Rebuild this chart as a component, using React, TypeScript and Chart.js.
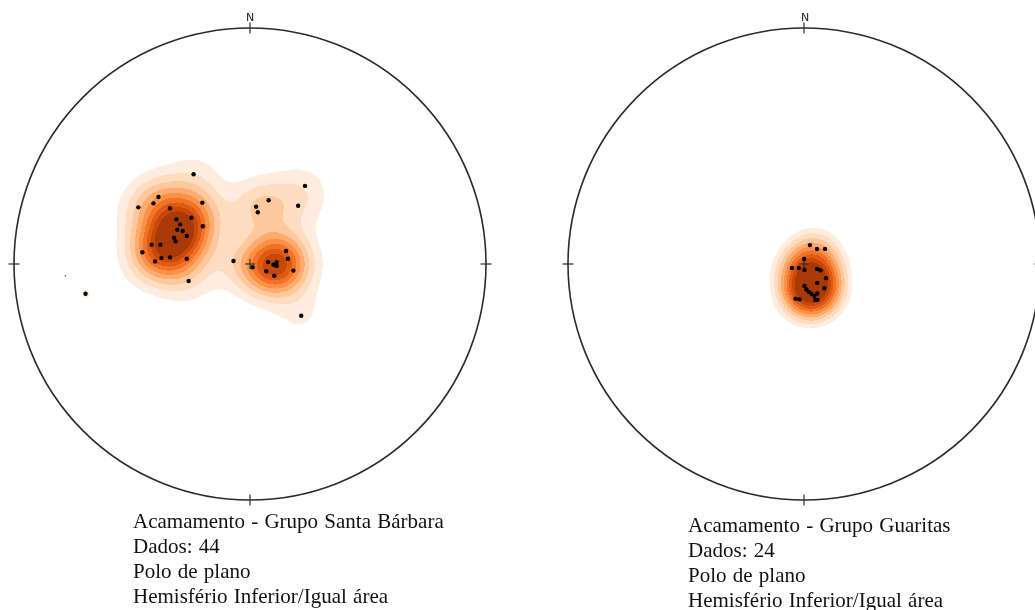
import React, { useEffect, useRef } from 'react';
import { Chart, registerables } from 'chart.js';

Chart.register(...registerables);

// Poles to bedding (equal-area, lower hemisphere), coordinates in units of net radius (x = East, y = North)
const santaBarbaraX = [-0.239, 0.233, -0.388, -0.473, -0.409, -0.202, -0.339, 0.079, 0.026, 0.033, 0.204, -0.312, -0.248, -0.296, -0.308, -0.285, -0.2, -0.268, -0.322, -0.315, -0.417, -0.38, -0.456, -0.402, -0.375, -0.339, -0.268, -0.26, -0.07, 0.011, 0.077, 0.113, 0.099, 0.113, 0.069, 0.103, 0.153, 0.161, 0.184, 0.217, -0.697];
const santaBarbaraY = [0.38, 0.331, 0.284, 0.24, 0.257, 0.26, 0.236, 0.27, 0.243, 0.219, 0.247, 0.189, 0.196, 0.168, 0.145, 0.14, 0.16, 0.119, 0.111, 0.096, 0.082, 0.082, 0.05, 0.011, 0.025, 0.028, 0.022, -0.072, 0.013, -0.014, 0.008, 0.008, -0.003, -0.008, -0.031, -0.05, 0.055, 0.022, -0.028, -0.219, -0.126];
const strayMarkX = [-0.782];
const strayMarkY = [-0.05];

const guaritasX = [0.025, 0.055, 0.089, 0.001, -0.051, -0.022, 0.002, 0.055, 0.07, 0.093, 0.056, 0.002, 0.01, 0.02, 0.032, 0.044, 0.056, 0.086, 0.048, 0.057, -0.036, -0.019];
const guaritasY = [0.08, 0.064, 0.064, 0.021, -0.017, -0.017, -0.025, -0.021, -0.027, -0.06, -0.08, -0.093, -0.108, -0.118, -0.126, -0.135, -0.125, -0.103, -0.152, -0.152, -0.147, -0.15];

// Cardinal tick positions on the primitive
const tickX = [0, 1, 0, -1];
const tickY = [1, 0, -1, 0];
const tickRotation = [90, 0, 90, 0];

// Contouring: lowest contour (kernel-count units) per net, top contour as fraction of the maximum
const santaBarbaraLowest = 0.985;
const guaritasLowest = 2.6;
const topContourFraction = 0.76;
const contourColors = ['#feeddf', '#fddcc0', '#fdc89d', '#fdac6f', '#fb9146', '#f1732a', '#e05a14', '#c8480a', '#a93a08'];

const captionSantaBarbara = ['Acamamento - Grupo Santa Bárbara', 'Dados: 44', 'Polo de plano', 'Hemisfério Inferior/Igual área'];
const captionGuaritas = ['Acamamento - Grupo Guaritas', 'Dados: 24', 'Polo de plano', 'Hemisfério Inferior/Igual área'];
const northLabel = 'N';

const NET_RADIUS_PX = 236;
const CANVAS_SIZE = 520;
const HALF_RANGE = CANVAS_SIZE / 2 / NET_RADIUS_PX;
const KERNEL_SIGMA = 0.12;

function toVec(x: number, y: number): [number, number, number] {
  const r = Math.min(Math.hypot(x, y), 1);
  const th = 2 * Math.asin(r / Math.SQRT2);
  const s = Math.sin(th);
  const ux = r > 0 ? x / r : 0;
  const uy = r > 0 ? y / r : 0;
  return [s * ux, s * uy, -Math.cos(th)];
}

function makeNetPlugin(xs: number[], ys: number[], lowest: number) {
  return {
    id: 'stereonet',
    beforeDatasetsDraw(chart: any) {
      const ctx = chart.ctx as CanvasRenderingContext2D;
      const xs_ = chart.scales.x;
      const ys_ = chart.scales.y;
      const area = chart.chartArea;
      const w = Math.round(area.right - area.left);
      const h = Math.round(area.bottom - area.top);
      const vecs = xs.map((x, i) => toVec(x, ys[i]));
      const inv = 1 / (KERNEL_SIGMA * KERNEL_SIGMA);
      const dens = new Float32Array(w * h);
      const inside = new Uint8Array(w * h);
      let maxD = 0;
      for (let j = 0; j < h; j++) {
        const vy = ys_.getValueForPixel(area.top + j + 0.5);
        for (let i = 0; i < w; i++) {
          const vx = xs_.getValueForPixel(area.left + i + 0.5);
          if (vx * vx + vy * vy > 1) continue;
          const p = toVec(vx, vy);
          let d = 0;
          for (const v of vecs) {
            const c = Math.abs(p[0] * v[0] + p[1] * v[1] + p[2] * v[2]);
            d += Math.exp((c - 1) * inv);
          }
          dens[j * w + i] = d;
          inside[j * w + i] = 1;
          if (d > maxD) maxD = d;
        }
      }
      const n = contourColors.length;
      const top = topContourFraction * maxD;
      const levels = contourColors.map((_, k) => lowest + ((top - lowest) * k) / (n - 1));
      const off = document.createElement('canvas');
      off.width = w;
      off.height = h;
      const octx = off.getContext('2d')!;
      const img = octx.createImageData(w, h);
      const rgb = contourColors.map((c) => [parseInt(c.slice(1, 3), 16), parseInt(c.slice(3, 5), 16), parseInt(c.slice(5, 7), 16)]);
      for (let k = 0; k < w * h; k++) {
        if (!inside[k]) continue;
        const f = dens[k];
        let band = 0;
        for (const lv of levels) if (f >= lv) band++;
        if (band === 0) continue;
        const col = rgb[band - 1];
        img.data[k * 4] = col[0];
        img.data[k * 4 + 1] = col[1];
        img.data[k * 4 + 2] = col[2];
        img.data[k * 4 + 3] = 255;
      }
      octx.putImageData(img, 0, 0);
      ctx.save();
      ctx.drawImage(off, area.left, area.top);
      const cx = xs_.getPixelForValue(0);
      const cy = ys_.getPixelForValue(0);
      const rpx = xs_.getPixelForValue(1) - cx;
      ctx.beginPath();
      ctx.arc(cx, cy, rpx, 0, Math.PI * 2);
      ctx.lineWidth = 1.6;
      ctx.strokeStyle = '#2b2b2b';
      ctx.stroke();
      ctx.restore();
    },
  };
}

function Stereonet({ xs, ys, lowest, extraX, extraY, left, top }: { xs: number[]; ys: number[]; lowest: number; extraX?: number[]; extraY?: number[]; left: number; top: number }) {
  const ref = useRef<HTMLCanvasElement>(null);
  useEffect(() => {
    if (!ref.current) return;
    const datasets: any[] = [
      {
        label: 'poles',
        data: xs.map((x, i) => ({ x, y: ys[i] })),
        pointRadius: 2.2,
        pointBackgroundColor: '#000',
        pointBorderWidth: 0,
      },
      {
        label: 'centre',
        data: [{ x: 0, y: 0 }],
        pointStyle: 'cross',
        pointRadius: 5,
        pointBorderColor: '#222',
        pointBorderWidth: 1,
      },
      {
        label: 'ticks',
        data: tickX.map((x, i) => ({ x, y: tickY[i] })),
        pointStyle: 'line',
        pointRadius: 5.5,
        pointRotation: tickRotation,
        pointBorderColor: '#2b2b2b',
        pointBorderWidth: 1.2,
      },
    ];
    if (extraX && extraY) {
      datasets.push({
        label: 'mark',
        data: extraX.map((x, i) => ({ x, y: extraY[i] })),
        pointRadius: 0.8,
        pointBackgroundColor: '#444',
        pointBorderWidth: 0,
      });
    }
    const chart = new Chart(ref.current, {
      type: 'scatter',
      data: { datasets },
      options: {
        responsive: false,
        maintainAspectRatio: false,
        animation: false,
        events: [],
        layout: { padding: 0, autoPadding: false },
        scales: {
          x: { type: 'linear', min: -HALF_RANGE, max: HALF_RANGE, display: false },
          y: { type: 'linear', min: -HALF_RANGE, max: HALF_RANGE, display: false },
        },
        plugins: { legend: { display: false }, tooltip: { enabled: false } },
      },
      plugins: [makeNetPlugin(xs, ys, lowest)],
    });
    return () => chart.destroy();
  }, []);
  return (
    <canvas
      ref={ref}
      width={CANVAS_SIZE}
      height={CANVAS_SIZE}
      style={{ position: 'absolute', left, top, width: CANVAS_SIZE, height: CANVAS_SIZE }}
    />
  );
}

const captionStyle: React.CSSProperties = {
  position: 'absolute',
  fontFamily: '"Liberation Serif", "Times New Roman", serif',
  fontSize: 21,
  lineHeight: '25px',
  wordSpacing: 1,
  color: '#111',
  whiteSpace: 'nowrap',
};

const nStyle: React.CSSProperties = {
  position: 'absolute',
  width: 20,
  textAlign: 'center',
  fontFamily: '"DejaVu Sans", sans-serif',
  fontSize: 11,
  lineHeight: '13px',
  color: '#222',
};

export default function App() {
  return (
    <div style={{ position: 'fixed', left: 0, top: 0, width: 1035, height: 610, overflow: 'hidden', background: '#fff' }}>
      <Stereonet xs={santaBarbaraX} ys={santaBarbaraY} lowest={santaBarbaraLowest} extraX={strayMarkX} extraY={strayMarkY} left={-10} top={4} />
      <Stereonet xs={guaritasX} ys={guaritasY} lowest={guaritasLowest} left={544} top={4} />
      <div style={{ ...nStyle, left: 240, top: 11 }}>{northLabel}</div>
      <div style={{ ...nStyle, left: 795, top: 11 }}>{northLabel}</div>
      <div style={{ ...captionStyle, left: 133, top: 509 }}>
        {captionSantaBarbara.map((t) => (
          <div key={t}>{t}</div>
        ))}
      </div>
      <div style={{ ...captionStyle, left: 688, top: 513 }}>
        {captionGuaritas.map((t) => (
          <div key={t}>{t}</div>
        ))}
      </div>
    </div>
  );
}
